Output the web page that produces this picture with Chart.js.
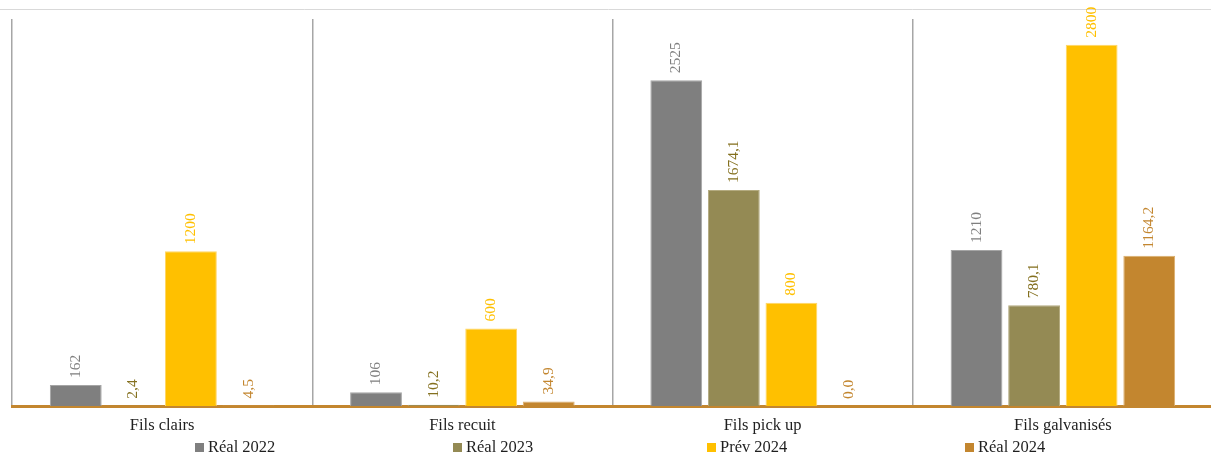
<!DOCTYPE html>
<html lang="fr">
<head>
<meta charset="utf-8">
<script src="https://cdn.jsdelivr.net/npm/chart.js@4.4.1/dist/chart.umd.min.js"></script>
<style>
  html, body { margin: 0; padding: 0; background: #fff; overflow: hidden; }
  #wrap { position: relative; width: 1211px; height: 454px; overflow: hidden; }
  #box { position: absolute; left: 0; top: 0; width: 1217px; height: 454px; }
  .leg { position: absolute; top: 437px; font-family: "Liberation Serif", serif; font-size: 16.5px; color: #1f1f1f; white-space: nowrap; }
  .leg i { display: inline-block; width: 9px; height: 9px; margin-right: 4px; vertical-align: 0px; }
</style>
</head>
<body>
<div id="wrap">
  <div id="box"><canvas id="graf"></canvas></div>
  <div id="legenda"></div>
</div>
<script>
// dados
const categorias = ['Fils clairs', 'Fils recuit', 'Fils pick up', 'Fils galvanisés'];
const series = ['Réal 2022', 'Réal 2023', 'Prév 2024', 'Réal 2024'];
const real_2022 = [162, 106, 2525, 1210];
const real_2023 = [2.4, 10.2, 1674.1, 780.1];
const prev_2024 = [1200, 600, 800, 2800];
const real_2024 = [4.5, 34.9, 0.0, 1164.2];
const decimais = [0, 1, 0, 1];

const cores = ['#7f7f7f', '#948a54', '#ffc000', '#c3862f'];
const cores_rotulo = ['#7f7f7f', '#84701f', '#ffc000', '#c3862f'];
const bordas = ['#a5a5a5', '#b4ab80', '#ffd666', '#dcae6e'];
const legenda_x = [195, 453, 707, 965];

const valores = [real_2022, real_2023, prev_2024, real_2024];

function formata(v, d) {
    return v.toFixed(d).replace('.', ',');
}

// rótulos verticais acima das barras
const rotulos = {
    id: 'rotulos',
    afterDatasetsDraw(chart) {
        const ctx = chart.ctx;
        ctx.save();
        ctx.font = '15.5px "Liberation Serif", serif';
        ctx.textAlign = 'left';
        ctx.textBaseline = 'middle';
        chart.data.datasets.forEach(function(ds, i) {
            const meta = chart.getDatasetMeta(i);
            meta.data.forEach(function(bar, j) {
                ctx.save();
                ctx.translate(bar.x, bar.y - 7);
                ctx.rotate(-Math.PI / 2);
                ctx.fillStyle = cores_rotulo[i];
                ctx.fillText(formata(ds.data[j], decimais[i]), 0, 0);
                ctx.restore();
            });
        });
        ctx.restore();
    }
};

const linha_topo = {
    id: 'linha_topo',
    beforeDraw(chart) {
        const ctx = chart.ctx;
        ctx.save();
        ctx.strokeStyle = '#d9d9d9';
        ctx.lineWidth = 1;
        ctx.beginPath();
        ctx.moveTo(0, 9.5);
        ctx.lineTo(chart.width, 9.5);
        ctx.stroke();
        ctx.restore();
    }
};

const ctx = document.getElementById('graf').getContext('2d');
const grafico = new Chart(ctx, {
    type: 'bar',
    data: {
        labels: categorias,
        datasets: series.map(function(nome, i) {
            return {
                label: nome,
                data: valores[i],
                backgroundColor: cores[i],
                borderColor: bordas[i],
                borderWidth: 1,
                categoryPercentage: 0.767,
                barPercentage: 0.9
            };
        })
    },
    options: {
        responsive: true,
        maintainAspectRatio: false,
        animation: false,
        layout: { padding: { top: 19, left: 12, right: 4, bottom: 0 } },
        plugins: {
            legend: { display: false },
            tooltip: { enabled: false }
        },
        scales: {
            x: {
                grid: { display: true, offset: true, color: '#a6a6a6', lineWidth: 1.5, drawTicks: false },
                border: { display: true, color: '#c3862f', width: 3 },
                ticks: {
                    color: '#1f1f1f',
                    padding: 10,
                    font: { family: '"Liberation Serif", serif', size: 16.5 }
                },
                afterFit: function(scale) { scale.height = 48; }
            },
            y: {
                display: false,
                min: 0,
                max: 3000
            }
        }
    },
    plugins: [rotulos, linha_topo]
});

// legenda em html
const leg = document.getElementById('legenda');
series.forEach(function(nome, i) {
    const d = document.createElement('div');
    d.className = 'leg';
    d.style.left = legenda_x[i] + 'px';
    d.innerHTML = '<i style="background:' + cores[i] + '"></i>' + nome;
    leg.appendChild(d);
});
</script>
</body>
</html>
